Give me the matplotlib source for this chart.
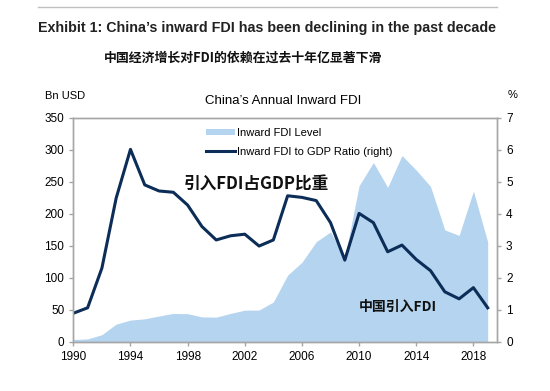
import matplotlib
matplotlib.use("Agg")
import matplotlib.pyplot as plt
from matplotlib.lines import Line2D

years = list(range(1990, 2020))
fdi_level = [3.5, 4.4, 11.0, 27.5, 33.8, 35.8, 40.2, 44.2, 43.8, 38.8,
             38.4, 44.2, 49.3, 49.5, 62.1, 104.1, 124.1, 156.2, 171.5, 131.1,
             243.7, 280.1, 241.2, 290.9, 268.1, 242.5, 174.7, 166.1, 235.4, 155.8]
fdi_gdp_ratio = [0.89, 1.06, 2.30, 4.49, 6.01, 4.90, 4.71, 4.67, 4.27, 3.60,
                 3.18, 3.31, 3.36, 2.99, 3.18, 4.56, 4.51, 4.41, 3.72, 2.55,
                 4.01, 3.72, 2.81, 3.02, 2.57, 2.22, 1.56, 1.34, 1.69, 1.06]
xticks = [1990, 1994, 1998, 2002, 2006, 2010, 2014, 2018]

AREA = "#b5d4ef"
LINE = "#0c2d57"
GRAY = "#a6a6a6"
CJK = ["Noto Sans CJK SC", "DejaVu Sans"]
LAT = ["Liberation Sans", "DejaVu Sans"]

fig = plt.figure(figsize=(5.5, 3.91), dpi=100)
ax = fig.add_axes([0.1333, 0.126, 0.7703, 0.573])
ax2 = ax.twinx()

ax.fill_between(years, fdi_level, 0, color=AREA, lw=0)
ax2.plot(years, fdi_gdp_ratio, color=LINE, lw=2.2)

ax.set_xlim(1990, 2019.65)
ax.set_ylim(0, 350)
ax2.set_ylim(0, 7)
ax.set_xticks(xticks)
ax.set_yticks(range(0, 351, 50))
ax2.set_yticks(range(0, 8))

for a in (ax, ax2):
    for s in a.spines.values():
        s.set_color(GRAY)
        s.set_linewidth(1.0)
    a.tick_params(colors=GRAY, labelcolor="black", length=3, width=1,
                  labelsize=8.5)
    for lab in a.get_xticklabels() + a.get_yticklabels():
        lab.set_family(LAT)

# header
fig.add_artist(Line2D([0.069, 0.904], [0.981, 0.981], color="#c0c0c0", lw=1))
fig.text(0.486, 0.928, "Exhibit 1: China\u2019s inward FDI has been declining in the past decade",
         ha="center", va="center", fontsize=10.3, fontweight="bold",
         family=LAT, color="#222222")
fig.text(0.442, 0.853, "中国经济增长对FDI的依赖在过去十年亿显著下滑",
         ha="center", va="center", fontsize=9.3, fontweight="bold",
         family=CJK, color="#111111")

fig.text(0.082, 0.754, "Bn USD", ha="left", va="center", fontsize=8, family=LAT)
fig.text(0.932, 0.758, "%", ha="center", va="center", fontsize=8, family=LAT)
fig.text(0.515, 0.742, "China\u2019s Annual Inward FDI", ha="center", va="center",
         fontsize=9.5, family=LAT)

handles = [plt.Rectangle((0, 0), 1, 1, color=AREA, lw=0),
           Line2D([0], [0], color=LINE, lw=2.2)]
ax.legend(handles, ["Inward FDI Level", "Inward FDI to GDP Ratio (right)"],
          loc="upper left", bbox_to_anchor=(0.29, 1.0), frameon=False,
          handlelength=2.6, handleheight=0.45,
          handletextpad=0.2, labelspacing=0.8,
          prop={"family": LAT, "size": 8})

ax.text(1997.7, 245, "引入FDI占GDP比重", ha="left", va="center", fontsize=12,
        fontweight="bold", family=CJK, color="#111111")
ax.text(2010.0, 55, "中国引入FDI", ha="left", va="center", fontsize=10,
        fontweight="bold", family=CJK, color="#111111")

fig.savefig("out.png", dpi=100)
